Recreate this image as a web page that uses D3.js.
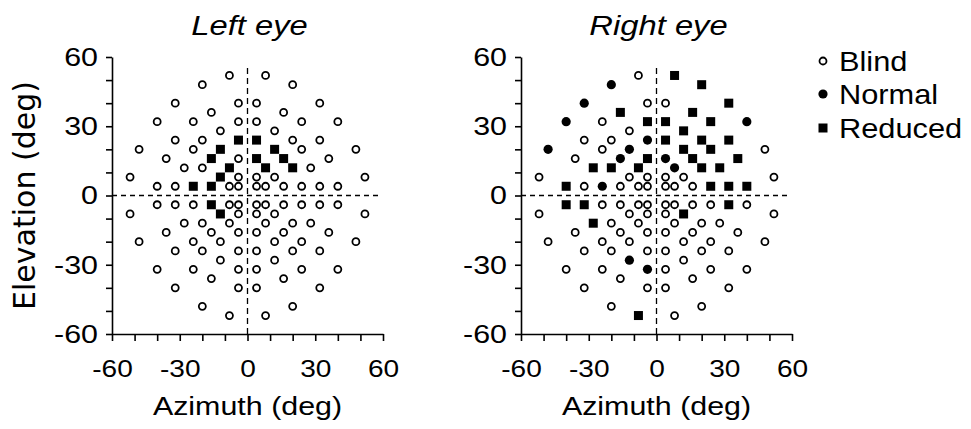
<!DOCTYPE html>
<html>
<head>
<meta charset="utf-8">
<script src="https://cdn.jsdelivr.net/npm/d3@7"></script>
<style>
  body { margin: 0; background: #fff; }
  text { font-family: "Liberation Sans", Arial, Helvetica, sans-serif; fill: #000; }
</style>
</head>
<body>
<script>
// test grid (deg), read top row to bottom row, left to right
let azimuth = [
    -8, 8,
    -20, 20,
    -32, -4, 4, 32,
    -16, 16,
    -40, -24, -4, 4, 24, 40,
    -12, 12,
    -32, -20, -4, 4, 20, 32,
    -48, -24, -12, 12, 24, 48,
    -36, -16, -4, 4, 16, 36,
    -28, -20, -8, 8, 20, 28,
    -52, -12, -4, 4, 12, 52,
    -40, -32, -24, -16, -8, -4, 4, 8, 16, 24, 32, 40,
    -40, -32, -24, -16, -8, -4, 4, 8, 16, 24, 32, 40,
    -52, -12, -4, 4, 12, 52,
    -28, -20, -8, 8, 20, 28,
    -36, -16, -4, 4, 16, 36,
    -48, -24, -12, 12, 24, 48,
    -32, -20, -4, 4, 20, 32,
    -12, 12,
    -40, -24, -4, 4, 24, 40,
    -16, 16,
    -32, -4, 4, 32,
    -20, 20,
    -8, 8
];
let elevation = [
    52, 52,
    48, 48,
    40, 40, 40, 40,
    36, 36,
    32, 32, 32, 32, 32, 32,
    28, 28,
    24, 24, 24, 24, 24, 24,
    20, 20, 20, 20, 20, 20,
    16, 16, 16, 16, 16, 16,
    12, 12, 12, 12, 12, 12,
    8, 8, 8, 8, 8, 8,
    4, 4, 4, 4, 4, 4, 4, 4, 4, 4, 4, 4,
    -4, -4, -4, -4, -4, -4, -4, -4, -4, -4, -4, -4,
    -8, -8, -8, -8, -8, -8,
    -12, -12, -12, -12, -12, -12,
    -16, -16, -16, -16, -16, -16,
    -20, -20, -20, -20, -20, -20,
    -24, -24, -24, -24, -24, -24,
    -28, -28,
    -32, -32, -32, -32, -32, -32,
    -36, -36,
    -40, -40, -40, -40,
    -48, -48,
    -52, -52
];
// B = blind, N = normal, R = reduced
let leftEye = [
    "B","B",
    "B","B",
    "B","B","B","B",
    "B","B",
    "B","B","B","B","B","B",
    "B","B",
    "B","B","R","R","B","B",
    "B","B","R","R","B","B",
    "B","R","B","R","R","B",
    "B","B","R","R","R","B",
    "B","R","B","B","B","B",
    "B","B","R","R","B","B","B","B","B","B","B","B",
    "B","B","B","R","B","B","B","B","B","B","B","B",
    "B","R","B","B","B","B",
    "B","B","B","B","B","B",
    "B","B","B","B","B","B",
    "B","B","B","B","B","B",
    "B","B","B","B","B","B",
    "B","B",
    "B","B","B","B","B","B",
    "B","B",
    "B","B","B","B",
    "B","B",
    "B","B"
];
let rightEye = [
    "B","R",
    "N","R",
    "N","B","B","R",
    "R","R",
    "N","B","R","R","R","N",
    "B","R",
    "B","B","N","R","R","R",
    "N","B","N","R","R","B",
    "B","N","R","N","R","R",
    "R","R","R","N","R","R",
    "B","B","B","B","B","B",
    "R","B","N","B","B","B","B","B","B","R","R","R",
    "R","R","B","B","B","B","B","B","B","B","R","B",
    "B","B","B","B","R","B",
    "R","B","B","B","B","B",
    "B","B","B","B","B","B",
    "B","B","B","B","B","B",
    "B","B","B","B","B","B",
    "N","B",
    "B","B","N","B","B","B",
    "B","B",
    "B","B","B","B",
    "B","B",
    "R","B"
];
let tickValues = [-60, -50, -40, -30, -20, -10, 0, 10, 20, 30, 40, 50, 60];
let labelValues = [-60, -30, 0, 30, 60];
let legendLabels = ["Blind", "Normal", "Reduced"];
let legendCodes = ["B", "N", "R"];

let W = 971, H = 429;
let stretch = "scale(1.17,1)";   // scanned lettering is wide

let svg = d3.select("body").append("svg")
    .attr("width", W)
    .attr("height", H);

let yScale = d3.scaleLinear().domain([-60, 60]).range([334, 57]);

function drawMark(g, code, x, y) {
    if (code === "R") {
        g.append("rect")
            .attr("x", x - 4.5).attr("y", y - 4.5)
            .attr("width", 9).attr("height", 9)
            .attr("fill", "#000");
    } else if (code === "N") {
        g.append("circle")
            .attr("cx", x).attr("cy", y).attr("r", 4.6)
            .attr("fill", "#000");
    } else {
        g.append("circle")
            .attr("cx", x).attr("cy", y).attr("r", 3.5)
            .attr("fill", "#fff")
            .attr("stroke", "#000")
            .attr("stroke-width", 1.8);
    }
}

function panel(x0, title, status, showYLabel) {
    let xScale = d3.scaleLinear().domain([-60, 60]).range([x0, x0 + 271]);
    let g = svg.append("g");

    // zero lines
    g.append("line")
        .attr("x1", xScale(0)).attr("x2", xScale(0))
        .attr("y1", yScale(-60)).attr("y2", yScale(57))
        .attr("stroke", "#000").attr("stroke-width", 1.3)
        .attr("stroke-dasharray", "6,4");
    g.append("line")
        .attr("x1", xScale(-60)).attr("x2", xScale(58))
        .attr("y1", yScale(0)).attr("y2", yScale(0))
        .attr("stroke", "#000").attr("stroke-width", 1.3)
        .attr("stroke-dasharray", "5,4");

    let fmt = d => labelValues.includes(d) ? String(d) : "";

    let xAxis = d3.axisBottom(xScale)
        .tickValues(tickValues)
        .tickFormat(fmt)
        .tickSize(7)
        .tickSizeOuter(0)
        .tickPadding(19);
    let yAxis = d3.axisLeft(yScale)
        .tickValues(tickValues)
        .tickFormat(fmt)
        .tickSize(6)
        .tickSizeOuter(0)
        .tickPadding(6);

    let gx = g.append("g")
        .attr("transform", `translate(0,${yScale(-60)})`)
        .call(xAxis);
    gx.selectAll("text").style("font-size", "24px").attr("transform", stretch);

    let gy = g.append("g")
        .attr("transform", `translate(${xScale(-60)},0)`)
        .call(yAxis);
    gy.selectAll("text").style("font-size", "26px").attr("transform", stretch);

    g.selectAll(".domain, .tick line").attr("stroke", "#000").attr("stroke-width", 1.6);
    g.selectAll(".tick text").attr("fill", "#000").style("font-family", '"Liberation Sans", Arial, sans-serif');

    // points
    let pts = g.append("g");
    azimuth.forEach((a, i) => drawMark(pts, status[i], xScale(a), yScale(elevation[i])));

    // title
    g.append("g")
        .attr("transform", `translate(${xScale(0) + 2},35)`)
        .append("text")
            .attr("transform", stretch)
            .attr("text-anchor", "middle")
            .style("font-size", "28px")
            .style("font-style", "italic")
            .text(title);

    g.append("g")
        .attr("transform", `translate(${xScale(0)},415)`)
        .append("text")
            .attr("transform", stretch)
            .attr("text-anchor", "middle")
            .style("font-size", "26px")
            .text("Azimuth (deg)");

    if (showYLabel) {
        g.append("text")
            .attr("transform", `translate(35,${yScale(0)}) rotate(-90)`)
            .attr("text-anchor", "middle")
            .style("font-family", '"DejaVu Sans", Verdana, sans-serif')
            .style("font-size", "30px")
            .text("Elevation (deg)");
    }
}

panel(112, "Left eye", leftEye, true);
panel(521, "Right eye", rightEye, false);

// legend
let lg = svg.append("g");
legendLabels.forEach((lab, i) => {
    let cy = [61, 94, 128][i];
    drawMark(lg, legendCodes[i], 823, cy);
    lg.append("g")
        .attr("transform", `translate(839,${cy + 10})`)
        .append("text")
            .attr("transform", "scale(1.14,1)")
            .style("font-size", "27px")
            .text(lab);
});
</script>
</body>
</html>
